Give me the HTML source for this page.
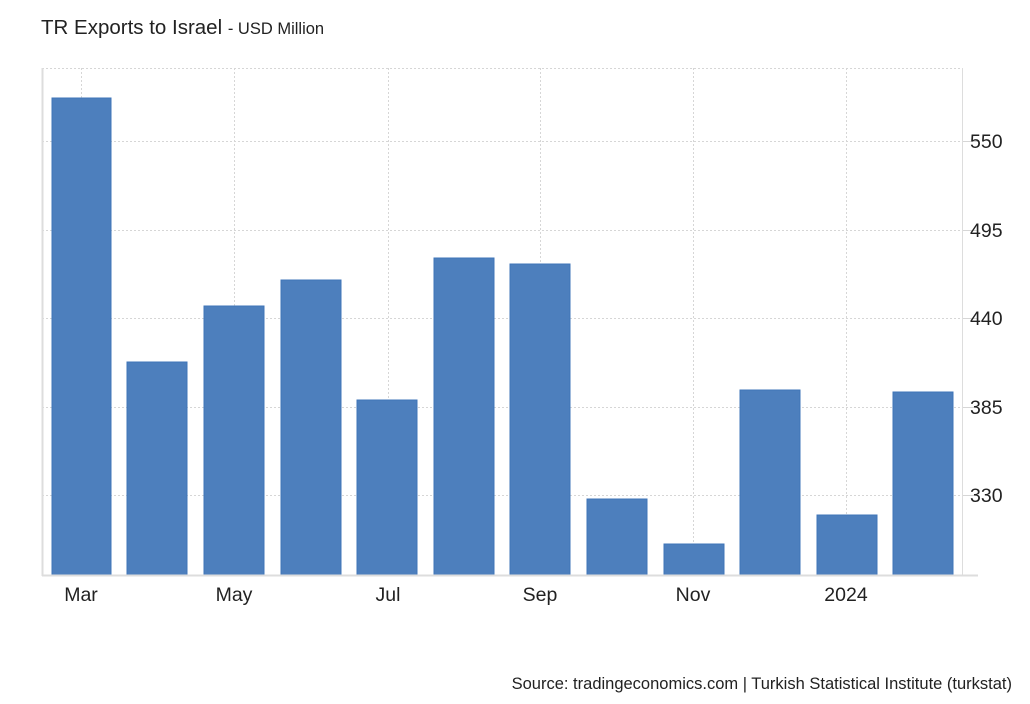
<!DOCTYPE html>
<html><head><meta charset="utf-8"><style>
body{margin:0;background:#fff;}
svg{display:block;font-family:"Liberation Sans",Arial,sans-serif;}
</style></head><body>
<svg width="1030" height="704" viewBox="0 0 1030 704">
<rect width="1030" height="704" fill="#fff"/>
<text x="41" y="34" font-size="20.5" fill="#222">TR Exports to Israel <tspan font-size="16.5">- USD Million</tspan></text>
<g stroke="#d6d6d6" stroke-width="1" stroke-dasharray="2,2">
<line x1="42" y1="68.5" x2="962" y2="68.5"/>
<line x1="42" y1="141.5" x2="962" y2="141.5"/>
<line x1="42" y1="230.5" x2="962" y2="230.5"/>
<line x1="42" y1="318.5" x2="962" y2="318.5"/>
<line x1="42" y1="407.5" x2="962" y2="407.5"/>
<line x1="42" y1="495.5" x2="962" y2="495.5"/>
<line x1="81.5" y1="68" x2="81.5" y2="575"/>
<line x1="234.5" y1="68" x2="234.5" y2="575"/>
<line x1="388.5" y1="68" x2="388.5" y2="575"/>
<line x1="540.5" y1="68" x2="540.5" y2="575"/>
<line x1="693.5" y1="68" x2="693.5" y2="575"/>
<line x1="846.5" y1="68" x2="846.5" y2="575"/>
</g>
<g stroke="#d6d6d6" stroke-width="1">
<line x1="962" y1="141.5" x2="978" y2="141.5"/>
<line x1="962" y1="230.5" x2="978" y2="230.5"/>
<line x1="962" y1="318.5" x2="978" y2="318.5"/>
<line x1="962" y1="407.5" x2="978" y2="407.5"/>
<line x1="962" y1="495.5" x2="978" y2="495.5"/>
</g>
<g fill="#4d7fbd" stroke="#3f74b8" stroke-width="1">
<rect x="52" y="98" width="59" height="477"/>
<rect x="127" y="362" width="60" height="213"/>
<rect x="204" y="306" width="60" height="269"/>
<rect x="281" y="280" width="60" height="295"/>
<rect x="357" y="400" width="60" height="175"/>
<rect x="434" y="258" width="60" height="317"/>
<rect x="510" y="264" width="60" height="311"/>
<rect x="587" y="499" width="60" height="76"/>
<rect x="664" y="544" width="60" height="31"/>
<rect x="740" y="390" width="60" height="185"/>
<rect x="817" y="515" width="60" height="60"/>
<rect x="893" y="392" width="60" height="183"/>
</g>
<line x1="42.5" y1="68" x2="42.5" y2="576" stroke="#ddd" stroke-width="2"/>
<line x1="962.5" y1="68" x2="962.5" y2="576" stroke="#ddd" stroke-width="1"/>
<line x1="42" y1="575.5" x2="978" y2="575.5" stroke="#ddd" stroke-width="2"/>
<g font-size="19.5" fill="#222">
<text x="970" y="148">550</text>
<text x="970" y="237">495</text>
<text x="970" y="325">440</text>
<text x="970" y="414">385</text>
<text x="970" y="502">330</text>
</g>
<g font-size="19.5" fill="#222" text-anchor="middle">
<text x="81" y="601">Mar</text>
<text x="234" y="601">May</text>
<text x="388" y="601">Jul</text>
<text x="540" y="601">Sep</text>
<text x="693" y="601">Nov</text>
<text x="846" y="601">2024</text>
</g>
<text x="1012" y="689" font-size="16.5" fill="#222" text-anchor="end">Source: tradingeconomics.com | Turkish Statistical Institute (turkstat)</text>
</svg>
</body></html>
